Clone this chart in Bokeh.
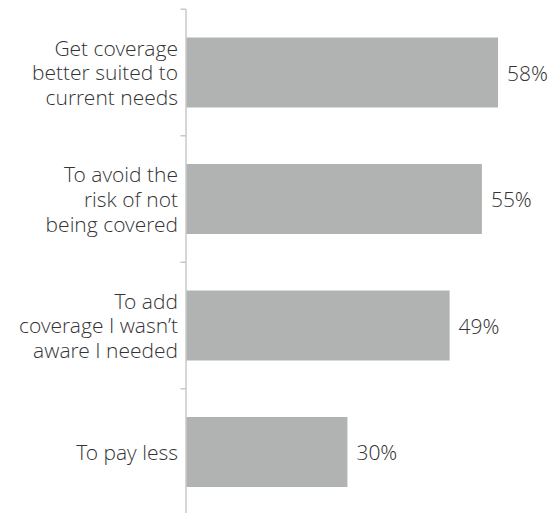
from bokeh.plotting import figure
from bokeh.models import Range1d, ColumnDataSource
from bokeh.core.properties import value
from bokeh.embed import file_html
from bokeh.resources import INLINE

categories = [
    "Get coverage\nbetter suited to\ncurrent needs",
    "To avoid the\nrisk of not\nbeing covered",
    "To add\ncoverage I wasn\u2019t\naware I needed",
    "To pay less",
]
values = [58, 55, 49, 30]
value_labels = ["58%", "55%", "49%", "30%"]

positions = list(range(len(categories)))
boundaries = [-0.5, 0.5, 1.5, 2.5, 3.5]

PX_PER_UNIT = 5.38
W, H = 549, 513
X0_PX = 185.5
Y0_PX = 72.0
BAND_PX = 126.5

x_start = -X0_PX / PX_PER_UNIT
x_end = (W - X0_PX) / PX_PER_UNIT
y_top = -Y0_PX / BAND_PX
y_bottom = (H - Y0_PX) / BAND_PX

FONT = value("'Open Sans Light', 'Open Sans'")

p = figure(width=W, height=H, output_backend="svg", toolbar_location=None,
           x_range=Range1d(x_start, x_end), y_range=Range1d(y_bottom, y_top),
           min_border=0, min_border_left=0, min_border_right=0,
           min_border_top=0, min_border_bottom=0)
p.axis.visible = False
p.grid.visible = False
p.outline_line_color = None
p.background_fill_color = "white"
p.border_fill_color = "white"

src = ColumnDataSource(dict(y=positions, v=values, cat=categories,
                            lbl=value_labels, zero=[0] * len(values)))

p.hbar(y="y", left=0, right="v", height=0.553, source=src,
       fill_color="#b1b3b3", line_color=None)

# axis line and boundary ticks
p.segment(x0=[0], y0=[boundaries[0]], x1=[0], y1=[y_bottom],
          line_color="#c8c8c8", line_width=1.5)
tick_len = 5.5 / PX_PER_UNIT
p.segment(x0=[-tick_len] * len(boundaries), y0=boundaries, x1=[0] * len(boundaries),
          y1=boundaries, line_color="#c8c8c8", line_width=1.5)

p.text(x="zero", y="y", text="cat", source=src, x_offset=-8,
       text_align="right", text_baseline="middle",
       text_font=FONT, text_font_size="21px",
       text_color="#333333", text_line_height=0.886)

p.text(x="v", y="y", text="lbl", source=src, x_offset=9,
       text_align="left", text_baseline="middle",
       text_font=FONT, text_font_size="21px",
       text_color="#333333")

open("out.html", "w").write(file_html(p, INLINE))
